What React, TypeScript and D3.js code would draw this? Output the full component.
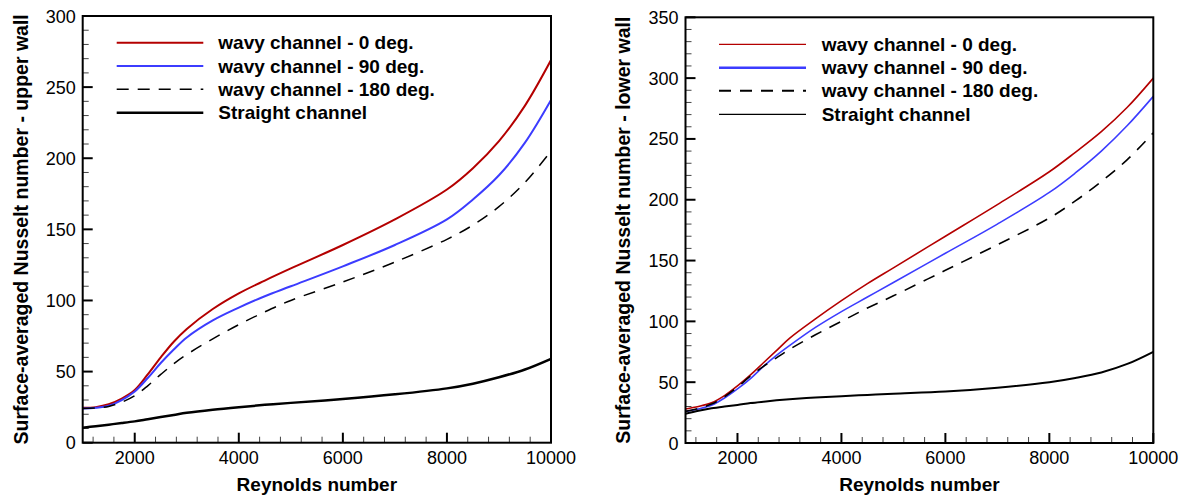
import React from "react";
import * as d3 from "d3";

const reynolds = [1000, 1250, 1500, 1750, 2000, 2250, 2500, 2750, 3000, 3500, 4000, 4500, 5000, 6000, 7000, 8000, 8500, 9000, 9500, 10000];

// Upper wall (left panel)
const upper0 = [24.5, 25, 27, 31, 37, 48, 60, 71, 80, 94, 105, 114, 122.5, 139, 157, 178, 193, 212, 237, 269];
const upper90 = [24, 24.5, 26, 30, 36, 45.5, 56, 65.5, 74, 86, 95, 103, 110, 124, 139, 157, 171, 188, 211, 241];
const upper180 = [24, 24.5, 25.5, 28.5, 33, 40, 48, 55.5, 62, 73, 83, 92, 100, 113, 127, 143, 153, 166, 183, 205];
const upperStraight = [10.5, 11.6, 12.7, 13.8, 15, 16.5, 18, 19.5, 21, 23.2, 25, 26.6, 28, 30.7, 34, 38.2, 41.5, 46, 51.5, 59];

// Lower wall (right panel)
const lower0 = [28, 30, 33, 39, 47, 56, 66, 76, 86, 102, 117, 131, 144, 170, 196, 223, 239, 256, 276, 300];
const lower90 = [26, 28, 31, 37, 44.5, 53, 63, 72, 80, 95, 108, 120, 132, 156, 180, 206, 222, 240, 261, 285];
const lower180 = [26, 28.5, 32, 38, 46, 55, 63, 70, 77, 89, 100, 111, 121, 142, 163, 185, 199, 215, 233, 255];
const lowerStraight = [24, 26.5, 28.5, 30, 31.3, 32.8, 34, 35.1, 36, 37.4, 38.5, 39.5, 40.5, 42.3, 45.5, 50, 53.5, 58, 65, 75];

const legendLabels = ["wavy channel - 0 deg.", "wavy channel - 90 deg.", "wavy channel - 180 deg.", "Straight channel"];
const xTickValues = [2000, 4000, 6000, 8000, 10000];
const upperYTicks = [0, 50, 100, 150, 200, 250, 300];
const lowerYTicks = [0, 50, 100, 150, 200, 250, 300, 350];

const RED = "#b40000";
const BLUE = "#3c3cff";
const FONT = "Arial, 'Liberation Sans', sans-serif";

type SeriesStyle = { color: string; width: number; dash?: string };

type PanelProps = {
  left: number;
  right: number;
  top: number;
  bottom: number;
  yMax: number;
  yTicks: number[];
  series: number[][];
  styles: SeriesStyle[];
  legendStyles: SeriesStyle[];
  legendX0: number;
  legendX1: number;
  legendTextX: number;
  legendY: number[];
  yTitle: string;
  yTitleX: number;
  id: string;
};

function Panel(p: PanelProps) {
  const x = d3.scaleLinear().domain([1000, 10000]).range([p.left, p.right]);
  const y = d3.scaleLinear().domain([0, p.yMax]).range([p.bottom, p.top]);
  const line = d3
    .line<[number, number]>()
    .x((d) => x(d[0]))
    .y((d) => y(d[1]))
    .curve(d3.curveCatmullRom.alpha(0.5));
  const minorX = d3.range(1200, 10000, 400).filter((v) => v % 2000 !== 0);
  const minorY = d3.range(10, p.yMax, 10).filter((v) => v % 50 !== 0);
  const cy = (p.top + p.bottom) / 2;
  const cx = (p.left + p.right) / 2;
  return (
    <g>
      <defs>
        <clipPath id={"clip-" + p.id}>
          <rect x={p.left} y={p.top} width={p.right - p.left} height={p.bottom - p.top} />
        </clipPath>
      </defs>
      {minorX.map((v) => (
        <line key={"mx" + v} x1={x(v)} x2={x(v)} y1={p.bottom} y2={p.bottom - 6} stroke="#444" strokeWidth={1} />
      ))}
      {minorY.map((v) => (
        <line key={"my" + v} x1={p.left} x2={p.left + 6} y1={y(v)} y2={y(v)} stroke="#444" strokeWidth={1} />
      ))}
      {xTickValues.map((v) => (
        <line key={"Mx" + v} x1={x(v)} x2={x(v)} y1={p.bottom} y2={p.bottom - 10} stroke="#000" strokeWidth={2} />
      ))}
      {p.yTicks.map((v) => (
        <line key={"My" + v} x1={p.left} x2={p.left + 10} y1={y(v)} y2={y(v)} stroke="#000" strokeWidth={2} />
      ))}
      <g clipPath={`url(#clip-${p.id})`}>
        {p.series.map((vals, i) => (
          <path
            key={"s" + i}
            d={line(reynolds.map((r, j) => [r, vals[j]] as [number, number])) || ""}
            fill="none"
            stroke={p.styles[i].color}
            strokeWidth={p.styles[i].width}
            strokeDasharray={p.styles[i].dash}
          />
        ))}
      </g>
      <rect x={p.left} y={p.top} width={p.right - p.left} height={p.bottom - p.top} fill="none" stroke="#000" strokeWidth={2} />
      {xTickValues.map((v) => (
        <text key={"lx" + v} x={x(v)} y={p.bottom + 21} textAnchor="middle" fontSize={18} fontFamily={FONT}>
          {v}
        </text>
      ))}
      {p.yTicks.map((v) => (
        <text key={"ly" + v} x={p.left - 7} y={y(v) + 6.5} textAnchor="end" fontSize={18} fontFamily={FONT}>
          {v}
        </text>
      ))}
      <text x={cx} y={p.bottom + 48} textAnchor="middle" fontSize={19} fontWeight="bold" fontFamily={FONT}>
        Reynolds number
      </text>
      <text
        transform={`translate(${p.yTitleX},${cy}) rotate(-90)`}
        textAnchor="middle"
        fontSize={19.5}
        fontWeight="bold"
        fontFamily={FONT}
      >
        {p.yTitle}
      </text>
      {legendLabels.map((lab, i) => (
        <g key={"lg" + i}>
          <line
            x1={p.legendX0}
            x2={p.legendX1}
            y1={p.legendY[i]}
            y2={p.legendY[i]}
            stroke={p.legendStyles[i].color}
            strokeWidth={p.legendStyles[i].width}
            strokeDasharray={p.legendStyles[i].dash}
          />
          <text x={p.legendTextX} y={p.legendY[i] + 6.5} fontSize={19} fontWeight="bold" fontFamily={FONT}>
            {lab}
          </text>
        </g>
      ))}
    </g>
  );
}

export default function App() {
  const leftStyles: SeriesStyle[] = [
    { color: RED, width: 2 },
    { color: BLUE, width: 2 },
    { color: "#000", width: 1.5, dash: "12,9" },
    { color: "#000", width: 2.5 },
  ];
  const rightStyles: SeriesStyle[] = [
    { color: RED, width: 1.6 },
    { color: BLUE, width: 1.6 },
    { color: "#000", width: 1.6, dash: "12,9" },
    { color: "#000", width: 2 },
  ];
  const rightLegendStyles: SeriesStyle[] = [
    { color: RED, width: 1.3 },
    { color: BLUE, width: 2.5 },
    { color: "#000", width: 2, dash: "12,9" },
    { color: "#000", width: 1.3 },
  ];
  return (
    <svg width={1186} height={500} style={{ position: "absolute", left: 0, top: 0, background: "#fff" }}>
      <rect width={1186} height={500} fill="#fff" />
      <Panel
        id="upper"
        left={82.7}
        right={551}
        top={16}
        bottom={442.7}
        yMax={300}
        yTicks={upperYTicks}
        series={[upper0, upper90, upper180, upperStraight]}
        styles={leftStyles}
        legendStyles={leftStyles}
        legendX0={116.7}
        legendX1={203.3}
        legendTextX={218.3}
        legendY={[42.7, 66, 89.3, 112.7]}
        yTitle="Surface-averaged Nusselt number - upper wall"
        yTitleX={28}
      />
      <Panel
        id="lower"
        left={685.5}
        right={1153.3}
        top={17.3}
        bottom={443}
        yMax={350}
        yTicks={lowerYTicks}
        series={[lower0, lower90, lower180, lowerStraight]}
        styles={rightStyles}
        legendStyles={rightLegendStyles}
        legendX0={719}
        legendX1={806}
        legendTextX={821.7}
        legendY={[44.3, 67.7, 90.7, 114.3]}
        yTitle="Surface-averaged Nusselt number - lower wall"
        yTitleX={630}
      />
    </svg>
  );
}
